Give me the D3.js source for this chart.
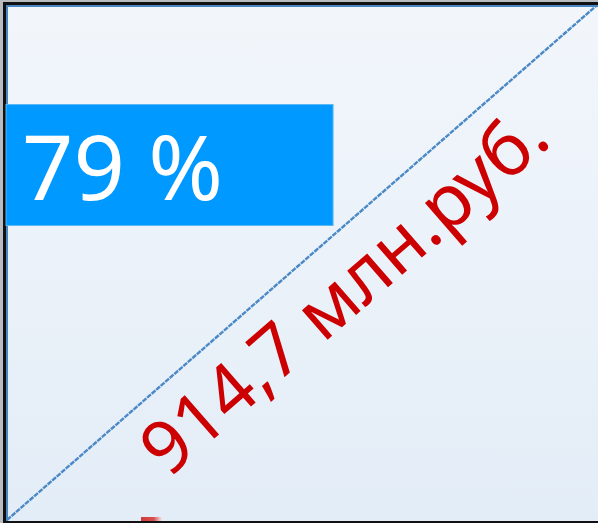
<!DOCTYPE html>
<html lang="ru">
<head>
    <meta charset="UTF-8">
    <title>914,7 млн.руб.</title>
    <style>
        body {
            margin: 0;
            padding: 0;
            background-color: #ffffff;
            font-family: "Noto Sans", sans-serif;
            overflow: hidden;
        }
        svg { display: block; }
    </style>
</head>
<body>
    <div id="chart"></div>

    <script src="https://cdnjs.cloudflare.com/ajax/libs/d3/7.8.5/d3.min.js"></script>
    <script>
        // values shown on the slide
        const shareLabels = ["79 %"];
        const shareValues = [79];
        const amountValues = [914.7];
        const amountUnits = ["млн.руб."];

        const width = 598;
        const height = 523;

        const svg = d3.select('#chart')
            .append('svg')
            .attr('width', width)
            .attr('height', height);

        const defs = svg.append('defs');

        // panel background gradient
        const bg = defs.append('linearGradient')
            .attr('id', 'panelFill')
            .attr('x1', 0).attr('y1', 0)
            .attr('x2', 0).attr('y2', 1);
        bg.append('stop').attr('offset', '0%').attr('stop-color', '#f2f6fb');
        bg.append('stop').attr('offset', '100%').attr('stop-color', '#e3edf7');

        const red = defs.append('linearGradient')
            .attr('id', 'redFade')
            .attr('x1', 0).attr('y1', 0)
            .attr('x2', 1).attr('y2', 0);
        red.append('stop').attr('offset', '0%').attr('stop-color', '#d23a3a');
        red.append('stop').attr('offset', '60%').attr('stop-color', '#d65050');
        red.append('stop').attr('offset', '100%').attr('stop-color', '#f3e8ee');

        // panel bounds (right side runs off the picture)
        const panelLeft = 6, panelTop = 5, panelRight = 610, panelBottom = 521;

        // outer grey frame
        svg.append('rect')
            .attr('x', 0).attr('y', 0)
            .attr('width', width).attr('height', height)
            .attr('fill', '#b9bcc0');

        svg.append('rect')
            .attr('x', 3).attr('y', 2)
            .attr('width', panelRight).attr('height', height - 2)
            .attr('fill', '#111');

        svg.append('rect')
            .attr('x', panelLeft).attr('y', panelTop)
            .attr('width', panelRight - panelLeft).attr('height', panelBottom - panelTop)
            .attr('fill', '#4a86c4');

        svg.append('rect')
            .attr('x', panelLeft + 2).attr('y', panelTop + 2)
            .attr('width', panelRight - panelLeft).attr('height', panelBottom - panelTop - 2)
            .attr('fill', 'url(#panelFill)');

        // scales across the visible panel (0..1 in both directions)
        const x = d3.scaleLinear().domain([0, 1]).range([panelLeft + 1, 596]);
        const y = d3.scaleLinear().domain([0, 1]).range([panelBottom - 1, panelTop + 1]);

        // diagonal split line
        svg.append('line')
            .attr('x1', x(0)).attr('y1', y(0))
            .attr('x2', x(1)).attr('y2', y(1))
            .attr('stroke', '#4a88c6')
            .attr('stroke-width', 2.4)
            .attr('stroke-dasharray', '5 1');

        // blue share box
        const barX = d3.scaleLinear().domain([0, 100]).range([panelLeft, 420]);
        svg.selectAll('.share')
            .data(shareValues)
            .enter()
            .append('rect')
            .attr('class', 'share')
            .attr('x', panelLeft)
            .attr('y', 104.5)
            .attr('width', d => barX(d) - panelLeft)
            .attr('height', 121)
            .attr('fill', '#0099ff')
            .attr('stroke', '#5ab8f5')
            .attr('stroke-width', 1);

        svg.selectAll('.share-label')
            .data(shareLabels)
            .enter()
            .append('text')
            .attr('class', 'share-label')
            .attr('x', 22)
            .attr('y', 200)
            .attr('fill', '#ffffff')
            .style('font-size', '90px')
            .text(d => d);

        // rotated amount along the diagonal
        const angle = -Math.atan2(y(0) - y(1), x(1) - x(0)) * 180 / Math.PI;
        const fmt = d3.format('.1f');
        svg.selectAll('.amount')
            .data(amountValues)
            .enter()
            .append('text')
            .attr('class', 'amount')
            .attr('transform', `translate(168,479) rotate(${angle})`)
            .attr('fill', '#cc0000')
            .style('font-size', '73px')
            .text((d, i) => fmt(d).replace('.', ',') + ' ' + amountUnits[i]);

        // cut-off red mark at the bottom edge
        svg.append('rect')
            .attr('x', 141).attr('y', 517)
            .attr('width', 21).attr('height', 4)
            .attr('fill', 'url(#redFade)');
    </script>
</body>
</html>
